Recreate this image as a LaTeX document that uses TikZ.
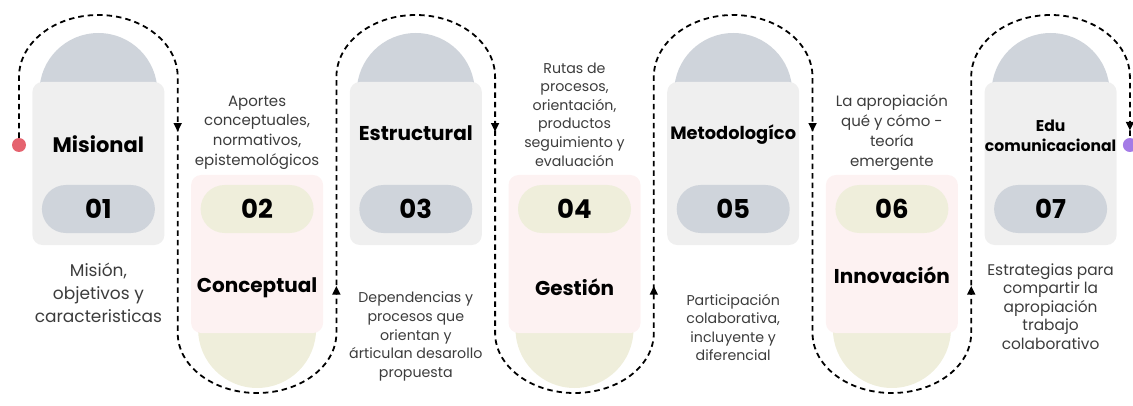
\documentclass[tikz,border=0pt]{standalone}
\usepackage{fontspec}
\setmainfont{Poppins}
\usetikzlibrary{shapes.geometric}
\definecolor{cardgray}{HTML}{EFEFEF}
\definecolor{cardpink}{HTML}{FDF2F2}
\definecolor{bluegray}{HTML}{CFD4DB}
\definecolor{beige}{HTML}{EFEEDB}
\definecolor{dotred}{HTML}{E5636F}
\definecolor{dotviolet}{HTML}{A47BE6}
\definecolor{textgray}{HTML}{3C3C3C}

\begin{document}
\begin{tikzpicture}[x=1pt,y=1pt,
  card/.style={rounded corners=10pt,minimum width=132pt,minimum height=163pt,inner sep=0},
  pill/.style={rounded corners=24pt,minimum width=113pt,minimum height=48pt,
    font=\bfseries\fontsize{26}{26}\selectfont},
  ttl/.style={font=\bfseries\fontsize{20}{22}\selectfont},
  txt/.style={align=center,text=textgray,font=\fontsize{14.2}{18.6}\selectfont},
  dot/.style={circle,inner sep=0,minimum size=14pt},
  flow/.style={line width=1.8pt,dash pattern=on 5.5pt off 4pt},
  tip/.style={isosceles triangle,isosceles triangle stretches,fill,inner sep=0,
    minimum width=8.5pt,minimum height=8.5pt,sloped,allow upside down}]
\useasboundingbox (0,0) rectangle (1133,405);

% half discs behind the cards
\foreach \x in {98.4,415.8,733.2,1050.6}
  \fill[bluegray] (\x-59,313) arc[start angle=180,end angle=0,radius=59] -- cycle;
\foreach \x in {257.1,574.5,891.9}
  \fill[beige] (\x-59,76) arc[start angle=180,end angle=360,radius=59] -- cycle;

\node[card,fill=cardgray] (c1) at (98.4,241.5) {};
\node[card,fill=cardpink,minimum height=158pt] (c2) at (257.1,151) {};
\node[card,fill=cardgray] (c3) at (415.8,241.5) {};
\node[card,fill=cardpink,minimum height=158pt] (c4) at (574.5,151) {};
\node[card,fill=cardgray] (c5) at (733.2,241.5) {};
\node[card,fill=cardpink,minimum height=158pt] (c6) at (891.9,151) {};
\node[card,fill=cardgray] (c7) at (1050.6,241.5) {};

\node[pill,fill=bluegray] (p1) at (98.4,196) {01};
\node[pill,fill=beige] (p2) at (257.1,196) {02};
\node[pill,fill=bluegray] (p3) at (415.8,196) {03};
\node[pill,fill=beige] (p4) at (574.5,196) {04};
\node[pill,fill=bluegray] (p5) at (733.2,196) {05};
\node[pill,fill=beige] (p6) at (891.9,196) {06};
\node[pill,fill=bluegray] (p7) at (1050.6,196) {07};

\node[ttl,font=\bfseries\fontsize{21}{22}\selectfont] (t1) at (98.4,261) {Misional};
\node[ttl] (t2) at (257.1,117) {Conceptual};
\node[ttl] (t3) at (415.8,272) {Estructural};
\node[ttl] (t4) at (574.5,118) {Gestión};
\node[ttl,font=\bfseries\fontsize{17.8}{20}\selectfont] (t5) at (733.2,270) {Metodologíco};
\node[ttl,align=center,font=\bfseries\fontsize{15.6}{20}\selectfont] (t7) at (1050.6,269.5) {Edu\\comunicacional};
\node[ttl] (t6) at (891.9,130) {Innovación};

\node[txt,font=\fontsize{17}{23}\selectfont] (d1) at (98.4,112) {Misión,\\objetivos y\\caracteristicas};
\node[txt,font=\fontsize{15}{19.7}\selectfont] (d2) at (257.1,272.5) {Aportes\\conceptuales,\\normativos,\\epistemológicos};
\node[txt] (d3) at (415.8,68.5) {Dependencias y\\procesos que\\orientan y\\árticulan desarollo\\propuesta};
\node[txt] (d4) at (574.5,290.5) {Rutas de\\procesos,\\orientación,\\productos\\seguimiento y\\evaluación};
\node[txt] (d5) at (733.2,77.5) {Participación\\colaborativa,\\incluyente y\\diferencial};
\node[txt,font=\fontsize{15}{20}\selectfont] (d6) at (891.9,272) {La apropiación\\qué y cómo -\\teoría\\emergente};
\node[txt,font=\fontsize{15.4}{18.5}\selectfont] (d7) at (1050.6,98.5) {Estrategias para\\compartir la\\apropiación\\trabajo\\colaborativo};

\node[dot,fill=dotred] (st) at (19,260) {};
\node[dot,fill=dotviolet] (en) at (1129.9,260) {};

\draw[flow] (st) -- (19,328)
  arc[start angle=180,end angle=0,x radius=79.35,y radius=62]
  -- node[tip,pos=.19]{} ++(0,-256) arc[start angle=180,end angle=360,x radius=79.35,y radius=60]
  -- node[tip,pos=.16]{} ++(0,256) arc[start angle=180,end angle=0,x radius=79.35,y radius=62]
  -- node[tip,pos=.19]{} ++(0,-256) arc[start angle=180,end angle=360,x radius=79.35,y radius=60]
  -- node[tip,pos=.16]{} ++(0,256) arc[start angle=180,end angle=0,x radius=79.35,y radius=62]
  -- node[tip,pos=.19]{} ++(0,-256) arc[start angle=180,end angle=360,x radius=79.35,y radius=60]
  -- node[tip,pos=.16]{} ++(0,256) arc[start angle=180,end angle=0,x radius=79.35,y radius=62]
  -- node[tip,pos=.78]{} (en);
\end{tikzpicture}
\end{document}
